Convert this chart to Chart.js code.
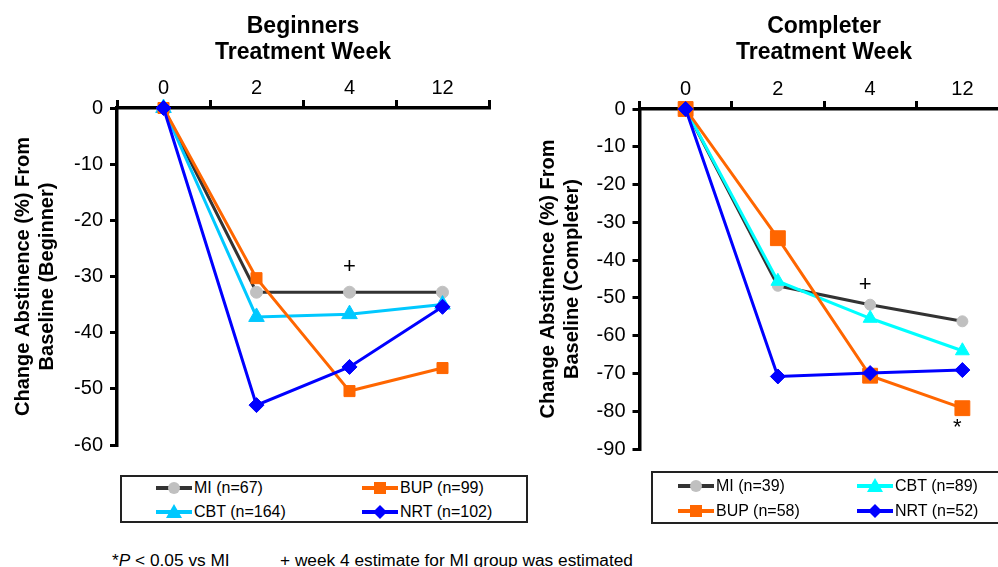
<!DOCTYPE html>
<html>
<head>
<meta charset="utf-8">
<script src="https://cdn.jsdelivr.net/npm/chart.js@4"></script>
<style>
  html, body { margin:0; padding:0; background:#fff; overflow:hidden; }
  #page { position:relative; width:998px; height:567px; overflow:hidden; font-family:"Liberation Sans", Arial, sans-serif; color:#000; }
  canvas { position:absolute; top:0; }
  .lbox { position:absolute; border:2px solid #222; box-sizing:border-box; }
  .item { position:absolute; height:20px; display:flex; align-items:center; font-size:16px; white-space:nowrap; }
  .item svg { display:block; margin-right:2px; }
  .foot { position:absolute; font-size:17.3px; white-space:nowrap; }
</style>
</head>
<body>
<div id="page">
  <canvas id="c1" width="520" height="468" style="left:0;width:520px;height:468px"></canvas>
  <canvas id="c2" width="500" height="472" style="left:520px;width:500px;height:472px"></canvas>
  <div id="leg1" class="lbox" style="left:120px;top:475px;width:408px;height:48px"></div>
  <div id="leg2" class="lbox" style="left:651px;top:471px;width:370px;height:53px"></div>
  <div class="foot" style="left:112px;top:550px">*<i>P</i> &lt; 0.05 vs MI</div>
  <div class="foot" style="left:280px;top:550px">+ week 4 estimate for MI group was estimated</div>
</div>
<script>
// ---------- data ----------
const weeks = ['0', '2', '4', '12'];

const begMI  = [0, -32.8, -32.8, -32.8];
const begBUP = [0, -30.3, -50.4, -46.3];
const begCBT = [0, -37.2, -36.7, -35.0];
const begNRT = [0, -52.9, -46.1, -35.4];

const compMI  = [0, -46.8, -51.8, -56.2];
const compCBT = [0, -45.6, -55.4, -64.0];
const compBUP = [0, -34.2, -70.6, -79.2];
const compNRT = [0, -70.8, -69.9, -69.1];

const begYMin = -60, compYMin = -90, yMax = 0, yStep = 10;

const begLegend  = ['MI (n=67)', 'BUP (n=99)', 'CBT (n=164)', 'NRT (n=102)'];
const compLegend = ['MI (n=39)', 'CBT (n=89)', 'BUP (n=58)', 'NRT (n=52)'];

const begNotes  = [{text: '+', index: 2, value: -28.3}];
const compNotes = [{text: '+', index: 2, value: -46.6, dx: -5}, {text: '*', index: 3, value: -84.5, dx: -5}];

// ---------- styles ----------
const FONT = '"Liberation Sans", Arial, sans-serif';
const C = { MI: '#333333', MIpt: '#c0c0c0', BUP: '#ff6600', CBT1: '#00c8ff', CBT2: '#00ffff', NRT: '#0000ff' };

function ds(label, data, color, ptColor, style, r, order) {
  return {
    label, data, borderColor: color, backgroundColor: ptColor,
    pointBackgroundColor: ptColor, pointBorderColor: ptColor, pointBorderWidth: 1,
    pointStyle: style, pointRadius: r, pointHoverRadius: r,
    borderWidth: 3, tension: 0, clip: false, order
  };
}

const textPlugin = {
  id: 'extraText',
  afterDatasetsDraw(chart, args, opts) {
    const { ctx, chartArea, scales: { x, y } } = chart;
    ctx.save();
    ctx.fillStyle = '#000';
    ctx.textAlign = 'center';
    ctx.textBaseline = 'middle';
    ctx.font = 'bold 23px ' + FONT;
    const cx = (chartArea.left + chartArea.right) / 2;
    opts.title.forEach((t, i) => ctx.fillText(t, cx, 27 + i * 26));
    ctx.font = '22px ' + FONT;
    opts.notes.forEach(n => ctx.fillText(n.text, x.getPixelForValue(n.index) + (n.dx || 0), y.getPixelForValue(n.value)));
    ctx.restore();
  }
};

function makeChart(id, datasets, yMin, yAxisW, xAxisH, pad, yTitle, yTitlePad, title, notes) {
  return new Chart(document.getElementById(id), {
    type: 'line',
    data: { labels: weeks, datasets },
    plugins: [textPlugin],
    options: {
      responsive: false, animation: false, events: [],
      layout: { padding: pad },
      plugins: { legend: { display: false }, tooltip: { enabled: false }, extraText: { title, notes } },
      scales: {
        x: {
          position: 'top', offset: true,
          grid: { offset: true, drawOnChartArea: false, drawTicks: true, tickLength: 8, lineWidth: 3, color: '#000' },
          border: { display: true, width: 3.5, color: '#000' },
          ticks: { color: '#000', font: { family: FONT, size: 20 }, padding: 0 },
          afterFit: s => { s.height = xAxisH; }
        },
        y: {
          min: yMin, max: yMax,
          grid: { drawOnChartArea: false, drawTicks: true, tickLength: 7, lineWidth: 3, color: '#000' },
          border: { display: true, width: 3.5, color: '#000' },
          ticks: { stepSize: yStep, color: '#000', font: { family: FONT, size: 20 }, padding: 7 },
          title: { display: true, text: yTitle, color: '#000', font: { family: FONT, size: 20, weight: 'bold', lineHeight: 1.2 }, padding: { top: yTitlePad, bottom: 0 } },
          afterFit: s => { s.width = yAxisW; }
        }
      }
    }
  });
}

makeChart('c1', [
  ds('MI', begMI, C.MI, C.MIpt, 'circle', 6, 4),
  ds('BUP', begBUP, C.BUP, C.BUP, 'rect', 7.8, 2),
  ds('CBT', begCBT, C.CBT1, C.CBT1, 'triangle', 9, 3),
  ds('NRT', begNRT, C.NRT, C.NRT, 'rectRot', 7.5, 1)
], begYMin, 117, 108, { left: 0, right: 31, top: 0, bottom: 23 },
  ['Change Abstinence (%) From', 'Baseline (Beginner)'], 11, ['Beginners', 'Treatment Week'], begNotes);

makeChart('c2', [
  ds('MI', compMI, C.MI, C.MIpt, 'circle', 5.5, 4),
  ds('CBT', compCBT, C.CBT2, C.CBT2, 'triangle', 8, 3),
  ds('BUP', compBUP, C.BUP, C.BUP, 'rect', 10.5, 2),
  ds('NRT', compNRT, C.NRT, C.NRT, 'rectRot', 7.5, 1)
], compYMin, 119.5, 109, { left: 0, right: 11, top: 0, bottom: 23 },
  ['Change Abstinence (%) From', 'Baseline (Completer)'], 16, ['Completer', 'Treatment Week'], compNotes);

// ---------- HTML legends ----------
function symbol(kind, line, fill) {
  let m = '';
  if (kind === 'circle') m = `<circle cx="18" cy="8" r="6" fill="${fill}"/>`;
  if (kind === 'rect') m = `<rect x="12" y="2" width="12" height="12" fill="${fill}"/>`;
  if (kind === 'triangle') m = `<polygon points="18,0 26,14 10,14" fill="${fill}"/>`;
  if (kind === 'rectRot') m = `<polygon points="18,1 25,8 18,15 11,8" fill="${fill}"/>`;
  return `<svg width="36" height="16" viewBox="0 0 36 16"><line x1="0" y1="8" x2="36" y2="8" stroke="${line}" stroke-width="4"/>${m}</svg>`;
}
function addItem(x, y, kind, line, fill, text) {
  const d = document.createElement('div');
  d.className = 'item';
  d.style.left = x + 'px';
  d.style.top = (y - 10) + 'px';
  d.innerHTML = symbol(kind, line, fill) + '<span>' + text + '</span>';
  document.getElementById('page').appendChild(d);
}
addItem(156, 488, 'circle', C.MI, C.MIpt, begLegend[0]);
addItem(362, 488, 'rect', C.BUP, C.BUP, begLegend[1]);
addItem(156, 512, 'triangle', C.CBT1, C.CBT1, begLegend[2]);
addItem(362, 512, 'rectRot', C.NRT, C.NRT, begLegend[3]);

addItem(678, 486, 'circle', C.MI, C.MIpt, compLegend[0]);
addItem(857, 486, 'triangle', C.CBT2, C.CBT2, compLegend[1]);
addItem(678, 511, 'rect', C.BUP, C.BUP, compLegend[2]);
addItem(857, 511, 'rectRot', C.NRT, C.NRT, compLegend[3]);
</script>
</body>
</html>
